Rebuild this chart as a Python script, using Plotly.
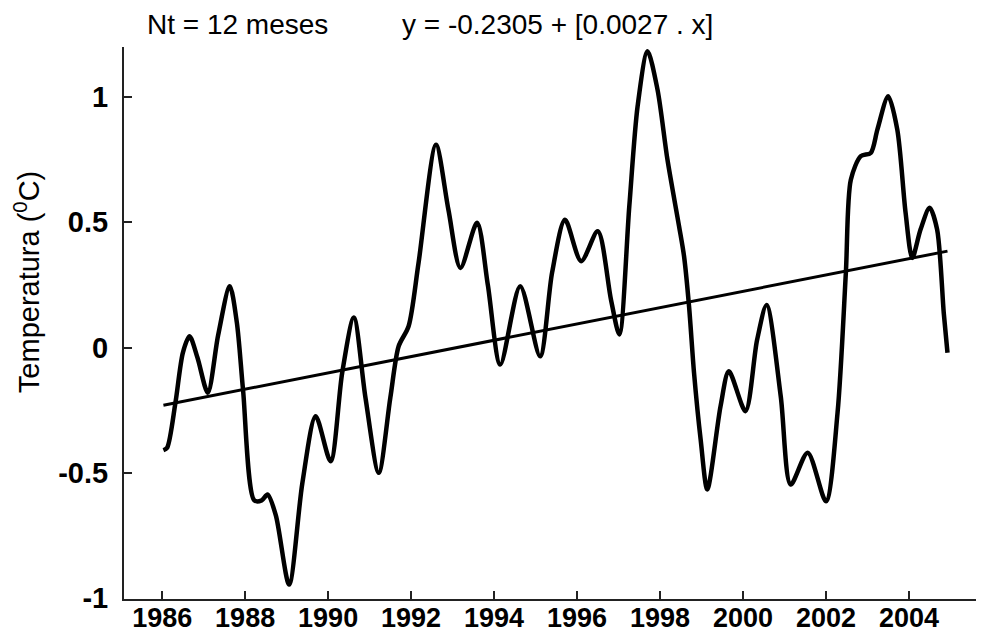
import plotly.graph_objects as go

# Smoothed temperature anomaly (12-month running mean)
years = [
    1986.03, 1986.12, 1986.32, 1986.50, 1986.66, 1986.85, 1987.10, 1987.35,
    1987.63, 1987.80, 1987.95, 1988.22, 1988.40, 1988.54, 1988.74, 1989.06,
    1989.38, 1989.70, 1990.06, 1990.34, 1990.62, 1990.90, 1991.22, 1991.50,
    1991.70, 1991.94, 1992.18, 1992.60, 1992.90, 1993.19, 1993.59, 1993.85,
    1994.15, 1994.63, 1995.11, 1995.40, 1995.71, 1996.10, 1996.50, 1996.82,
    1997.02, 1997.26, 1997.46, 1997.70, 1997.94, 1998.18, 1998.46, 1998.58,
    1998.70, 1998.82, 1998.98, 1999.14, 1999.46, 1999.66, 2000.06, 2000.34,
    2000.57, 2000.91, 2001.15, 2001.56, 2002.00, 2002.28, 2002.48, 2002.60,
    2002.84, 2003.08, 2003.24, 2003.50, 2003.72, 2003.92, 2004.08, 2004.28,
    2004.50, 2004.68, 2004.84, 2004.93,
]
temperature = [
    -0.41, -0.40, -0.22, -0.02, 0.045, -0.04, -0.18, 0.05,
    0.245, 0.10, -0.17, -0.61, -0.61, -0.587, -0.67, -0.946,
    -0.54, -0.274, -0.454, -0.10, 0.12, -0.20, -0.50, -0.20,
    0.005, 0.085, 0.338, 0.81, 0.55, 0.318, 0.498, 0.25,
    -0.068, 0.245, -0.035, 0.30, 0.51, 0.345, 0.464, 0.19,
    0.052, 0.564, 0.963, 1.183, 1.03, 0.75, 0.484, 0.364,
    0.165, -0.10, -0.367, -0.567, -0.234, -0.095, -0.254, 0.03,
    0.17, -0.194, -0.547, -0.42, -0.614, -0.26, 0.298, 0.67,
    0.764, 0.777, 0.87, 1.003, 0.87, 0.538, 0.358, 0.471,
    0.558, 0.471, 0.138, -0.021,
]

# linear trend y = -0.2305 + 0.0027*x (x in months), endpoints
trend_years = [1986.03, 2004.93]
trend_values = [-0.2305, 0.385]

x_ticks = [1986, 1988, 1990, 1992, 1994, 1996, 1998, 2000, 2002, 2004]
y_ticks = [-1, -0.5, 0, 0.5, 1]
y_tick_labels = ["-1", "-0.5", "0", "0.5", "1"]

font_family = "Liberation Sans, Arial, sans-serif"
axis_color = "#222222"

fig = go.Figure()
fig.add_trace(go.Scatter(x=years, y=temperature, mode="lines",
                         line=dict(color="black", width=4.5, shape="spline", smoothing=0.8),
                         hoverinfo="x+y"))
fig.add_trace(go.Scatter(x=trend_years, y=trend_values, mode="lines",
                         line=dict(color="black", width=3)))

# the page body adds an 8px offset, so the figure is 8px smaller than the window
fig.update_layout(
    width=976, height=625,
    margin=dict(l=116, r=0, t=39, b=34),
    paper_bgcolor="white", plot_bgcolor="white",
    showlegend=False,
    font=dict(family=font_family, color="black"),
    xaxis=dict(range=[1985.08, 2005.81], tickvals=x_ticks, ticks="inside", ticklen=8,
               tickcolor=axis_color, tickwidth=1.5, showline=True, linecolor=axis_color,
               linewidth=2, showgrid=False, zeroline=False, mirror=False, automargin=False,
               tickfont=dict(family=font_family, size=27, color="black", weight="bold"),
               ticklabelstandoff=-6),
    yaxis=dict(range=[-1.004, 1.2], tickvals=y_ticks, ticktext=y_tick_labels,
               ticks="inside", ticklen=8, tickcolor=axis_color, tickwidth=1.5,
               showline=True, linecolor=axis_color, linewidth=2, showgrid=False,
               zeroline=False, mirror=False, automargin=False,
               tickfont=dict(family=font_family, size=29, color="black", weight="bold"),
               ticklabelstandoff=8),
    annotations=[
        dict(text="Nt = 12 meses", xref="paper", yref="paper", x=0.0256, y=1.0399,
             xanchor="left", yanchor="middle", showarrow=False, borderpad=0,
             font=dict(size=28, family=font_family)),
        dict(text="y = -0.2305 + [0.0027 . x]", xref="paper", yref="paper", x=0.322, y=1.0399,
             xanchor="left", yanchor="middle", showarrow=False, borderpad=0,
             font=dict(size=28, family=font_family)),
        dict(text="Temperatura (<sup>0</sup>C)", xref="paper", yref="paper", x=-0.1128, y=0.574,
             xanchor="center", yanchor="middle", textangle=-90, showarrow=False,
             font=dict(size=29, family=font_family)),
    ],
)

fig.write_html("out.html")
